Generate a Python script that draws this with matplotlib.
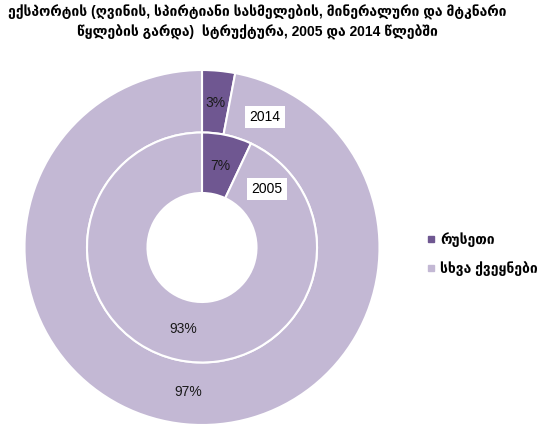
import matplotlib
matplotlib.use("Agg")
import matplotlib.pyplot as plt

TITLE = ("ექსპორტის (ღვინის, სპირტიანი სასმელების, მინერალური და მტკნარი\n"
         "წყლების გარდა)  სტრუქტურა, 2005 და 2014 წლებში")
CATEGORIES = ["რუსეთი", "სხვა ქვეყნები"]
SHARE_2014 = [3, 97]
SHARE_2005 = [7, 93]
YEARS = ["2014", "2005"]

COLORS = ["#6f5791", "#c3b8d4"]
FONT = ["Liberation Sans", "DejaVu Sans"]

W, H = 554, 430
fig = plt.figure(figsize=(W / 100, H / 100), dpi=100)
ax = fig.add_axes([0, 0, 1, 1])

cx, cy = 202, H - 247.5
R_OUT, R_MID, R_IN = 177.5, 115, 54.5

wedges, _, pcts_out = ax.pie(
    SHARE_2014, radius=R_OUT, center=(cx, cy), startangle=90, counterclock=False,
    colors=COLORS, autopct="%d%%", pctdistance=0.82,
    wedgeprops=dict(width=R_OUT - R_MID, edgecolor="white", linewidth=1.5),
    frame=True)
_, _, pcts_in = ax.pie(
    SHARE_2005, radius=R_MID, center=(cx, cy), startangle=90, counterclock=False,
    colors=COLORS, autopct="%d%%", pctdistance=0.73,
    wedgeprops=dict(width=R_MID - R_IN, edgecolor="white", linewidth=1.5),
    frame=True)
ax.set_xlim(0, W)
ax.set_ylim(0, H)
ax.set_aspect("auto")
ax.axis("off")

for t in pcts_out + pcts_in:
    t.set_fontsize(10)
    t.set_family(FONT)
    t.set_color("#1a1a1a")

box = dict(facecolor="white", edgecolor="none", pad=3)
ax.text(265, H - 117, YEARS[0], fontsize=10, family=FONT, ha="center", va="center", bbox=box)
ax.text(267, H - 189, YEARS[1], fontsize=10, family=FONT, ha="center", va="center", bbox=box)

fig.text(257 / W, 1 - 22 / H, TITLE, fontsize=10, fontweight="bold", family=FONT,
         ha="center", va="center", linespacing=1.4)

handles = [plt.Line2D([0], [0], marker="s", color="w", markerfacecolor=c,
                      markeredgecolor=c, markersize=5, label=lab)
           for c, lab in zip(COLORS, CATEGORIES)]
fig.legend(handles=handles, loc="center left", bbox_to_anchor=(414 / W, 1 - 254 / H),
           frameon=False, prop=dict(family=FONT, size=10, weight="bold"),
           handlelength=0.6, handletextpad=0.4, labelspacing=1.0)

fig.savefig("out.png", dpi=100)
